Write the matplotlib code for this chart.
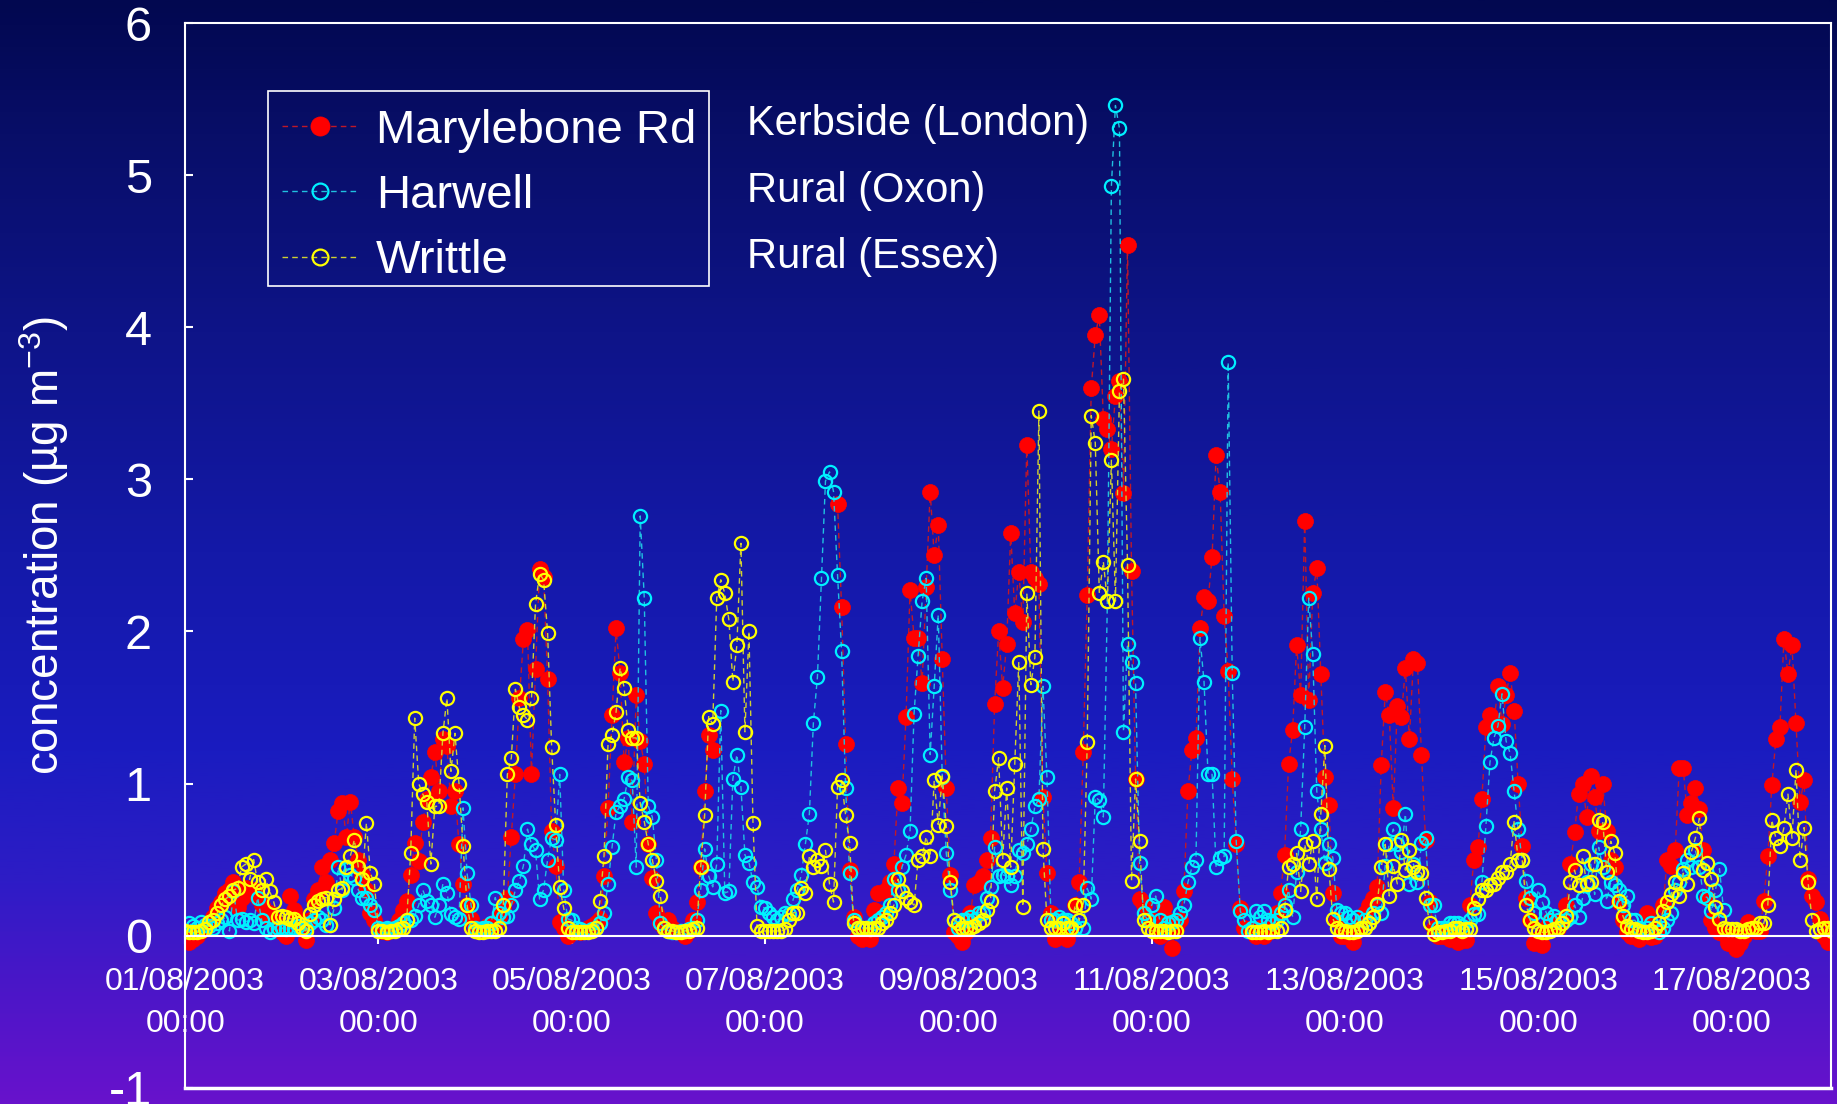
import numpy as np
import matplotlib
matplotlib.use('Agg')
import matplotlib.pyplot as plt
from matplotlib import font_manager
from matplotlib.colors import LinearSegmentedColormap
from matplotlib.patches import Rectangle

nan = np.nan

# hourly concentrations, one list per day, starting 01/08/2003 00:00
marylebone_days = [
    [0.0, -0.04, -0.02, 0.0, 0.03, 0.05, 0.08, 0.12, 0.18, 0.22, 0.28, 0.3,
     0.35, 0.19, 0.25, 0.31, 0.28, 0.3, 0.25, 0.2, 0.13, 0.15, 0.1, 0.05],
    [0.02, 0.0, 0.26, 0.17, 0.1, 0.05, -0.03, 0.1, 0.24, 0.3, 0.45, 0.35,
     0.5, 0.61, 0.82, 0.87, 0.65, 0.88, 0.65, 0.5, 0.4, 0.3, 0.15, 0.1],
    [0.05, 0.03, 0.02, 0.04, 0.05, 0.1, 0.17, 0.23, 0.4, 0.61, 0.49, 0.75,
     0.9, 1.04, 1.21, 0.95, 1.29, 1.25, 0.85, 0.95, 0.6, 0.34, 0.2, 0.11],
    [0.05, 0.03, 0.04, 0.06, 0.05, 0.08, 0.12, 0.18, 0.25, 0.65, 1.06, 1.56,
     1.95, 2.01, 1.06, 1.75, 2.41, 2.36, 1.69, 0.69, 0.46, 0.09, 0.05, 0.0],
    [0.02, 0.03, 0.02, 0.03, 0.05, 0.06, 0.08, 0.11, 0.39, 0.84, 1.45, 2.02,
     1.73, 1.14, 1.3, 0.75, 1.58, 1.28, 1.13, 0.6, 0.38, 0.15, 0.08, 0.05],
    [0.1, 0.05, 0.03, 0.02, 0.0, 0.03, 0.1, 0.22, 0.45, 0.95, 1.32, 1.22,
     nan, nan, nan, nan, nan, nan, nan, nan, nan, nan, nan, nan],
    [nan, nan, nan, nan, nan, nan, nan, nan, nan, nan, nan, nan,
     nan, nan, nan, nan, nan, nan, 2.84, 2.16, 1.26, 0.43, 0.12, 0.0],
    [-0.02, 0.0, -0.02, 0.17, 0.28, 0.15, 0.3, 0.35, 0.47, 0.97, 0.87, 1.44,
     2.27, 1.96, 1.96, 1.66, 2.29, 2.92, 2.5, 2.7, 1.82, 0.97, 0.4, 0.02],
    [0.0, -0.04, 0.02, 0.15, 0.33, 0.35, 0.39, 0.5, 0.64, 1.52, 2.0, 1.63,
     1.92, 2.65, 2.12, 2.39, 2.06, 3.23, 2.39, 2.35, 2.31, 0.91, 0.41, 0.15],
    [-0.02, 0.0, 0.05, -0.02, 0.05, 0.2, 0.35, 1.21, 2.24, 3.6, 3.95, 4.08,
     3.4, 3.33, 3.2, 3.55, 3.65, 2.91, 4.54, 2.4, 1.03, 0.24, 0.2, 0.1],
    [0.1, 0.05, 0.0, 0.19, 0.1, -0.08, 0.05, 0.1, 0.29, 0.95, 1.22, 1.3,
     2.02, 2.23, 2.2, 2.49, 3.16, 2.92, 2.1, 1.74, 1.03, 0.6, 0.18, 0.05],
    [0.04, 0.03, 0.0, 0.05, 0.0, 0.02, 0.05, 0.15, 0.28, 0.53, 1.13, 1.35,
     1.91, 1.58, 2.73, 1.55, 2.25, 2.42, 1.72, 1.04, 0.86, 0.28, 0.1, 0.0],
    [0.0, 0.02, -0.04, 0.05, 0.1, 0.15, 0.2, 0.25, 0.32, 1.12, 1.6, 1.45,
     0.84, 1.51, 1.44, 1.76, 1.29, 1.82, 1.79, 1.19, 0.63, 0.22, 0.05, 0.0],
    [0.0, 0.02, -0.02, 0.0, -0.04, -0.03, -0.03, 0.2, 0.5, 0.58, 0.9, 1.37,
     1.45, 1.4, 1.64, 1.39, 1.58, 1.73, 1.48, 1.0, 0.59, 0.25, 0.1, -0.05],
    [-0.02, -0.06, 0.05, 0.1, 0.08, 0.05, 0.1, 0.2, 0.47, 0.68, 0.93, 1.0,
     0.78, 1.05, 0.91, 0.69, 1.0, 0.69, 0.5, 0.45, 0.22, 0.1, 0.02, 0.0],
    [0.0, -0.02, 0.02, 0.15, -0.01, 0.0, 0.05, 0.2, 0.5, 0.46, 0.56, 1.1,
     1.1, 0.79, 0.87, 0.97, 0.83, 0.56, 0.25, 0.1, 0.05, 0.02, 0.01, -0.05],
    [0.01, -0.09, -0.05, 0.0, 0.09, 0.05, 0.03, 0.03, 0.23, 0.52, 0.99, 1.29,
     1.37, 1.95, 1.72, 1.91, 1.4, 0.88, 1.02, 0.37, 0.26, 0.22, 0.11, 0.0],
    [-0.04, 0.05, 0.02],
]

harwell_days = [
    [0.03, 0.08, 0.06, 0.05, 0.09, 0.07, 0.06, 0.05, 0.08, 0.1, 0.12, 0.03,
     0.29, 0.1, 0.11, 0.09, 0.1, 0.08, 0.25, 0.1, 0.05, 0.02, 0.04, 0.05],
    [0.05, 0.04, 0.05, 0.05, 0.06, 0.05, 0.05, 0.08, 0.1, 0.12, 0.1, 0.07,
     0.07, 0.18, 0.45, 0.3, 0.44, 0.4, 0.38, 0.3, 0.25, 0.25, 0.2, 0.17],
    [0.05, 0.04, 0.05, 0.04, 0.05, 0.06, 0.08, 0.1, 0.1, 0.13, 0.2, 0.3,
     0.23, 0.2, 0.12, 0.2, 0.34, 0.28, 0.14, 0.12, 0.11, 0.84, 0.41, 0.2],
    [0.05, 0.04, 0.05, 0.05, 0.08, 0.25, 0.15, 0.12, 0.13, 0.2, 0.3, 0.36,
     0.46, 0.7, 0.6, 0.56, 0.24, 0.3, 0.5, 0.64, 0.63, 1.06, 0.3, 0.11],
    [0.1, 0.05, 0.04, 0.03, 0.03, 0.04, 0.05, 0.08, 0.15, 0.34, 0.58, 0.81,
     0.85, 0.9, 1.04, 1.02, 0.45, 2.76, 2.22, 0.85, 0.78, 0.5, 0.08, 0.05],
    [0.03, 0.02, 0.02, 0.03, 0.03, 0.04, 0.05, 0.1, 0.3, 0.57, 0.39, 0.32,
     0.47, 1.48, 0.28, 0.29, 1.03, 1.19, 0.98, 0.53, 0.48, 0.35, 0.32, 0.19],
    [0.18, 0.15, 0.12, 0.1, 0.12, 0.15, 0.14, 0.24, 0.3, 0.4, 0.6, 0.8,
     1.4, 1.7, 2.35, 2.99, 3.05, 2.92, 2.37, 1.87, 0.97, 0.41, 0.1, 0.05],
    [0.05, 0.05, 0.05, 0.08, 0.1, 0.12, 0.15, 0.2, 0.37, 0.3, 0.45, 0.53,
     0.69, 1.46, 1.84, 2.2, 2.35, 1.19, 1.64, 2.11, 1.04, 0.54, 0.3, 0.1],
    [0.05, 0.1, 0.1, 0.12, 0.1, 0.15, 0.15, 0.25, 0.32, 0.58, 0.39, 0.4,
     0.39, 0.33, 0.39, 0.56, 0.54, 0.6, 0.7, 0.85, 0.9, 1.64, 1.04, 0.1],
    [0.1, 0.12, 0.1, 0.1, 0.08, 0.05, 0.1, 0.05, 0.31, 0.24, 0.91, 0.89,
     0.78, 2.2, 4.93, 5.46, 5.31, 1.34, 1.92, 1.8, 1.66, 0.48, 0.15, 0.1],
    [0.2, 0.26, 0.1, 0.05, 0.08, 0.09, 0.1, 0.15, 0.2, 0.35, 0.45, 0.5,
     1.96, 1.67, 1.06, 1.06, 0.45, 0.51, 0.52, 3.77, 1.73, 0.62, 0.16, 0.1],
    [0.03, 0.05, 0.16, 0.12, 0.16, 0.1, 0.08, 0.1, 0.15, 0.2, 0.3, 0.12,
     0.42, 0.7, 1.37, 2.22, 1.85, 0.95, 0.7, 0.48, 0.6, 0.51, 0.17, 0.15],
    [0.15, 0.12, 0.1, 0.12, 0.05, 0.1, 0.08, 0.15, 0.2, 0.15, 0.46, 0.6,
     0.7, 0.6, 0.55, 0.8, 0.34, 0.47, 0.35, 0.61, 0.64, 0.2, 0.2, 0.05],
    [0.05, 0.05, 0.08, 0.08, 0.08, 0.06, 0.05, 0.1, 0.14, 0.14, 0.35, 0.72,
     1.14, 1.3, 1.38, 1.59, 1.28, 1.2, 0.95, 0.7, 0.5, 0.36, 0.25, 0.15],
    [0.3, 0.22, 0.15, 0.1, 0.13, 0.1, 0.08, 0.1, 0.12, 0.2, 0.12, 0.25,
     0.35, 0.47, 0.27, 0.58, 0.45, 0.23, 0.35, 0.33, 0.3, 0.2, 0.26, 0.1],
    [0.1, 0.05, 0.03, 0.05, 0.08, 0.05, 0.02, 0.05, 0.1, 0.15, 0.3, 0.35,
     0.44, 0.5, 0.45, 0.56, 0.45, 0.26, 0.25, 0.16, 0.3, 0.44, 0.17, nan],
    [nan] * 24,
    [nan, nan, nan],
]

writtle_days = [
    [0.03, 0.02, 0.02, 0.02, 0.03, 0.04, 0.09, 0.1, 0.15, 0.2, 0.24, 0.26,
     0.3, 0.31, 0.45, 0.47, 0.37, 0.5, 0.35, 0.3, 0.37, 0.29, 0.22, 0.12],
    [0.13, 0.12, 0.11, 0.11, 0.08, 0.05, 0.03, 0.14, 0.2, 0.23, 0.24, 0.25,
     0.07, 0.24, 0.3, 0.31, 0.45, 0.52, 0.63, 0.45, 0.37, 0.74, 0.41, 0.34],
    [0.03, 0.03, 0.02, 0.03, 0.03, 0.04, 0.05, 0.1, 0.54, 1.43, 1.0, 0.93,
     0.88, 0.47, 0.85, 0.85, 1.33, 1.56, 1.08, 1.33, 1.0, 0.59, 0.2, 0.05],
    [0.03, 0.02, 0.02, 0.03, 0.03, 0.03, 0.05, 0.2, 1.06, 1.17, 1.62, 1.5,
     1.45, 1.42, 1.56, 2.18, 2.38, 2.34, 1.99, 1.24, 0.73, 0.32, 0.18, 0.05],
    [0.02, 0.02, 0.02, 0.02, 0.02, 0.03, 0.05, 0.23, 0.52, 1.26, 1.32, 1.47,
     1.76, 1.63, 1.35, 1.3, 1.3, 0.87, 0.75, 0.6, 0.5, 0.36, 0.26, 0.05],
    [0.03, 0.03, 0.02, 0.02, 0.03, 0.03, 0.04, 0.05, 0.45, 0.79, 1.44, 1.39,
     2.22, 2.34, 2.25, 2.08, 1.67, 1.91, 2.58, 1.34, 2.0, 0.74, 0.06, 0.03],
    [0.03, 0.03, 0.03, 0.03, 0.03, 0.04, 0.1, 0.15, 0.15, 0.31, 0.28, 0.52,
     0.45, 0.5, 0.46, 0.56, 0.34, 0.22, 0.98, 1.02, 0.79, 0.61, 0.08, 0.05],
    [0.05, 0.05, 0.04, 0.05, 0.05, 0.08, 0.1, 0.15, 0.2, 0.37, 0.29, 0.25,
     0.22, 0.2, 0.5, 0.52, 0.65, 0.52, 1.02, 0.73, 1.05, 0.72, 0.35, 0.1],
    [0.08, 0.05, 0.05, 0.05, 0.06, 0.08, 0.1, 0.17, 0.23, 0.95, 1.17, 0.5,
     0.97, 0.45, 1.13, 1.8, 0.19, 2.25, 1.65, 1.83, 3.45, 0.57, 0.1, 0.05],
    [0.05, 0.05, 0.08, 0.05, 0.05, 0.2, 0.1, 0.2, 1.27, 3.42, 3.24, 2.25,
     2.46, 2.2, 3.13, 2.2, 3.58, 3.66, 2.44, 0.36, 1.03, 0.62, 0.1, 0.05],
    [0.03, 0.03, 0.03, 0.03, 0.02, 0.03, 0.03, nan, nan, nan, nan, nan,
     nan, nan, nan, nan, nan, nan, nan, nan, nan, nan, nan, nan],
    [nan, 0.02, 0.02, 0.02, 0.03, 0.02, 0.03, 0.03, 0.05, 0.17, 0.45, 0.47,
     0.54, 0.29, 0.6, 0.47, 0.62, 0.24, 0.8, 1.25, 0.44, 0.11, 0.05, 0.03],
    [0.03, 0.02, 0.02, 0.03, 0.05, 0.05, 0.08, 0.12, 0.21, 0.45, 0.6, 0.26,
     0.46, 0.34, 0.63, 0.43, 0.56, 0.45, 0.42, 0.41, 0.25, 0.08, 0.01, 0.02],
    [0.02, 0.03, 0.03, 0.05, 0.05, 0.03, 0.04, 0.04, 0.18, 0.24, 0.3, 0.3,
     0.33, 0.34, 0.38, 0.42, 0.42, 0.47, 0.75, 0.5, 0.5, 0.2, 0.1, 0.05],
    [0.03, 0.02, 0.02, 0.03, 0.04, 0.05, 0.08, 0.13, 0.35, 0.43, 0.33, 0.52,
     0.34, 0.35, 0.47, 0.76, 0.75, 0.42, 0.62, 0.54, 0.23, 0.13, 0.06, 0.04],
    [0.04, 0.03, 0.02, 0.02, 0.03, 0.05, 0.08, 0.16, 0.22, 0.27, 0.35, 0.26,
     0.41, 0.34, 0.55, 0.64, 0.77, 0.43, 0.48, 0.37, 0.19, 0.11, 0.05, 0.04],
    [0.04, 0.04, 0.03, 0.03, 0.04, 0.05, 0.05, 0.08, 0.08, 0.2, 0.76, 0.64,
     0.59, 0.71, 0.93, 0.64, 1.09, 0.5, 0.71, 0.35, 0.1, 0.03, 0.04, 0.05],
    [0.05, 0.03, 0.04],
]

series_names = ['Marylebone Rd', 'Harwell', 'Writtle']
site_types = ['Kerbside (London)', 'Rural (Oxon)', 'Rural (Essex)']
tick_days = [0, 2, 4, 6, 8, 10, 12, 14, 16]
tick_labels = ['01/08/2003\n00:00', '03/08/2003\n00:00', '05/08/2003\n00:00',
               '07/08/2003\n00:00', '09/08/2003\n00:00', '11/08/2003\n00:00',
               '13/08/2003\n00:00', '15/08/2003\n00:00', '17/08/2003\n00:00']


def day_series(days):
    """Turn per-day hourly lists into x (days since 01/08 00:00) and y arrays"""
    xs = np.concatenate([d + np.arange(len(v)) / 24.0 for d, v in enumerate(days)])
    ys = np.concatenate([np.array(v, dtype=float) for v in days])
    return xs, ys


names = {f.name for f in font_manager.fontManager.ttflist}
family = 'Liberation Sans' if 'Liberation Sans' in names else 'DejaVu Sans'
plt.rcParams['font.family'] = family
plt.rcParams['axes.unicode_minus'] = False

fig = plt.figure(figsize=(18.37, 11.04), dpi=100)

# background gradient over the whole figure
bg = fig.add_axes([0, 0, 1, 1], zorder=-10)
stops = [(0.0, '#020850'), (0.12, '#080e68'), (0.3, '#0e1488'), (0.5, '#1419a8'),
         (0.68, '#1a1cc0'), (0.8, '#2e1cc6'), (0.9, '#4c16c8'), (1.0, '#6812cc')]
cmap = LinearSegmentedColormap.from_list('bg', stops)
bg.imshow(np.linspace(0, 1, 512).reshape(-1, 1), aspect='auto', cmap=cmap,
          extent=[0, 1, 0, 1])
bg.axis('off')

ax = fig.add_axes([0.1008, 0.0149, 0.8960, 0.9639])
ax.set_facecolor('none')

styles = [
    dict(color='#c01828', mfc='#ff0000', mec='#ff0000', ms=11.5, mew=0.5),
    dict(color='#20c0e0', mfc='none', mec='#00f0ff', ms=9.5, mew=1.6),
    dict(color='#d0d030', mfc='none', mec='#ffff00', ms=9.5, mew=1.6),
]
for days, name, st in zip([marylebone_days, harwell_days, writtle_days],
                          series_names, styles):
    x, y = day_series(days)
    ax.plot(x, y, linestyle=(0, (4, 3)), lw=1.0, marker='o', label=name, **st)

ax.set_xlim(0, 17.03)
ax.set_ylim(-1, 6)
ax.set_yticks(range(-1, 7))
ax.set_xticks(tick_days)
ax.set_xticklabels(tick_labels)

for s in ax.spines.values():
    s.set_color('white')
    s.set_linewidth(1.5)
ax.spines['bottom'].set_position(('data', 0))
ax.axhline(-1, color='white', lw=2.5, clip_on=False)

ax.tick_params(axis='y', direction='in', length=6, width=1.5, colors='white',
               labelsize=35, pad=24)
ax.tick_params(axis='x', direction='out', length=6, width=1.5, colors='white',
               labelsize=23, pad=17)
for lab in ax.xaxis.get_majorticklabels():
    lab.set_linespacing(1.5)

fig.text(0.0242, 0.506, 'concentration (µg m$^{\\mathregular{-3}}$)', rotation=90,
         color='white', fontsize=33, ha='center', va='center')

# legend entries without frame, box drawn separately
leg = ax.legend(loc='upper left', bbox_to_anchor=(0.1459, 0.9144),
                bbox_transform=fig.transFigure, fontsize=34, frameon=False,
                borderpad=0.3, labelspacing=0.45,
                handlelength=1.6, handletextpad=0.38, borderaxespad=0,
                markerscale=1.2)
for t in leg.get_texts():
    t.set_color('white')
fig.patches.append(Rectangle((0.1460, 0.7410), 0.2398, 0.1762, transform=fig.transFigure,
                             fill=False, edgecolor='white', linewidth=1.2))

for label, yf in zip(site_types, [0.8875, 0.8269, 0.7675]):
    fig.text(0.4069, yf, label, color='white', fontsize=30, ha='left', va='center')

fig.savefig('out.png', dpi=100)
print("Chart saved: out.png")
